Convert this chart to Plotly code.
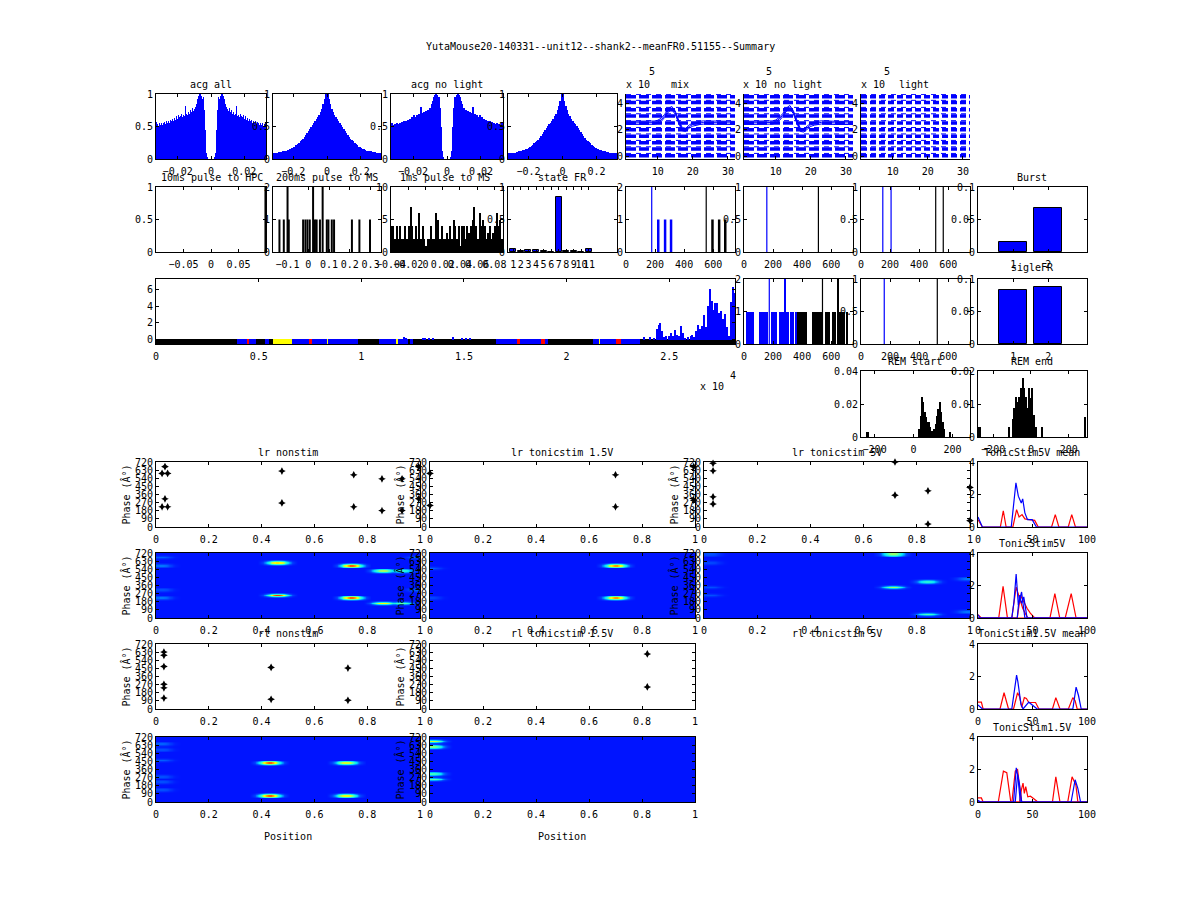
import plotly.graph_objects as go

W, H = 1200, 900
FONT = "DejaVu Sans Mono"
BLUE = "#0000ff"
BLACK = "#000000"
STATE_COLORS = {"k": "#000000", "b": "#0000ff", "r": "#ff0000", "y": "#ffff00"}

# ---------------- data ----------------
# autocorrelograms, one half (lag 0 outwards); the acg is symmetric
acg_all_half = [0, 0, 0, 0.02, 0.1, 0.45, 0.75, 0.95, 0.93, 0.97, 1.0, 1.0, 0.97, 0.92, 0.85, 0.8, 0.77,
                0.74, 0.78, 0.72, 0.75, 0.7, 0.73, 0.68, 0.7, 0.82, 0.66, 0.68, 0.65, 0.7, 0.66, 0.64,
                0.68, 0.62, 0.66, 0.6, 0.63, 0.59, 0.61, 0.58, 0.6, 0.56, 0.59, 0.55, 0.58, 0.54, 0.57,
                0.55, 0.53, 0.56, 0.52, 0.55, 0.5, 0.54, 0.57]
acg_nolight_half = [0, 0, 0, 0.03, 0.12, 0.5, 0.78, 0.96, 0.92, 0.98, 1.0, 0.99, 0.95, 0.9, 0.84, 0.79,
                    0.78, 0.73, 0.76, 0.71, 0.74, 0.69, 0.72, 0.67, 0.71, 0.8, 0.65, 0.69, 0.64, 0.68,
                    0.65, 0.63, 0.67, 0.61, 0.65, 0.6, 0.62, 0.58, 0.6, 0.57, 0.59, 0.55, 0.58, 0.54,
                    0.57, 0.53, 0.56, 0.54, 0.52, 0.55, 0.51, 0.54, 0.5, 0.53, 0.56]
acg_short_bin = 0.0006
acg_wide_half = [1.0, 0.92, 0.85, 0.77, 0.72, 0.68, 0.64, 0.61, 0.58, 0.56, 0.53, 0.5, 0.46, 0.43, 0.4,
                 0.37, 0.34, 0.31, 0.29, 0.27, 0.25, 0.23, 0.21, 0.19, 0.18, 0.17, 0.16, 0.15, 0.14,
                 0.13, 0.13, 0.12, 0.12, 0.11, 0.11, 0.11, 0.1, 0.1, 0.1, 0.1]
acg_wide2_half = [1.0, 0.9, 0.82, 0.75, 0.7, 0.66, 0.62, 0.59, 0.56, 0.54, 0.51, 0.48, 0.45, 0.42, 0.39,
                  0.36, 0.33, 0.3, 0.28, 0.26, 0.24, 0.22, 0.2, 0.19, 0.17, 0.16, 0.15, 0.14, 0.14,
                  0.13, 0.12, 0.12, 0.11, 0.11, 0.1, 0.1, 0.1, 0.1, 0.09, 0.09]
acg_wide_bin = 0.008

# waveforms (units of 1e5), x = sample 1..32
wave_x = list(range(1, 33))
wave_offsets = [0.05, 0.55, 1.03, 1.52, 2.0, 2.52, 3.04, 3.52, 4.05, 4.5]
mix_spike = [2.52, 2.52, 2.52, 2.52, 2.52, 2.52, 2.52, 2.52, 2.54, 2.6, 2.75, 3.05, 3.45, 3.65, 3.3,
             2.6, 2.05, 2.0, 2.25, 2.4, 2.48, 2.52, 2.55, 2.55, 2.52, 2.52, 2.52, 2.52, 2.52, 2.52,
             2.52, 2.52]
nolight_spike = [2.52, 2.52, 2.52, 2.52, 2.52, 2.52, 2.52, 2.52, 2.55, 2.62, 2.8, 3.1, 3.5, 3.72, 3.35,
                 2.65, 2.0, 1.95, 2.2, 2.38, 2.47, 2.52, 2.56, 2.56, 2.53, 2.52, 2.52, 2.52, 2.52,
                 2.52, 2.52, 2.52]

# pulse-triggered histograms
pulse10_x = [0.099]
pulse10_h = [1]
pulse200_tall_x = [-0.1, 0.023, 0.069]
pulse200_x = [-0.139, -0.118, -0.094, -0.025, -0.014, -0.004, 0.007, 0.032, 0.04, 0.056, 0.089,
              0.097, 0.113, 0.124, 0.21, 0.246, 0.297]
pulse1_start = -0.04
pulse1_bin = 0.002
pulse1_counts = [4, 4, 2, 4, 2, 4, 2, 2, 4, 2,
                 4, 7, 4, 2, 4, 2, 6, 2, 4, 2,
                 1, 2, 2, 4, 2, 2, 6, 5, 2, 4,
                 2, 2, 3, 2, 4, 2, 5, 4, 2, 4,
                 1, 4, 4, 2, 4, 3, 4, 5, 7, 4,
                 2, 6, 4, 5, 4, 2, 3, 4, 2, 3,
                 4, 6, 4, 5, 2]
state_ids = [1, 2, 3, 4, 5, 6, 7, 8, 9, 10, 11]
state_fr = [0.04, 0.02, 0.03, 0.03, 0.01, 0.005, 0.85, 0.01, 0.01, 0.005, 0.04]

# event rasters (0..750)
mixev_thin_x = [177, 552]
mixev_thin_h = [2, 2]
mixev_blue_x = [222, 269, 310]
mixev_black_x = [595, 641, 683]
nolightev_blue_x = [157]
nolightev_black_x = [512]
lightev_blue_x = [150, 207]
lightev_black_x = [514, 566]
r3_start = [16, 106, 185, 242, 287, 316, 348, 366, 468, 558, 603, 637, 705, 276, 637]
r3_end = [72, 167, 230, 276, 310, 344, 362, 434, 536, 592, 633, 694, 716, 287, 655]
r3_height = [1, 1, 1, 1, 1, 1, 1, 1, 1, 1, 1, 1, 1, 2, 2]
r3_color = ["b", "b", "b", "b", "b", "b", "b", "k", "k", "k", "k", "k", "k", "b", "k"]
r3_lines_x = [174, 540]
r3b_blue_x = [160]
r3b_black_x = [525]

burst_x = [1, 2]
burst_y = [0.0155, 0.068]
single_fr_x = [1, 2]
single_fr_y = [0.083, 0.088]

# session timeline (x 1e4 s)
seg_start = [0, 0.394, 0.445, 0.454, 0.486, 0.533, 0.548, 0.572, 0.664, 0.744, 0.759, 0.836, 0.839,
             0.983, 1.084, 1.172, 1.179, 1.230, 1.235, 1.252, 1.656, 1.763, 1.772, 1.875, 1.893,
             1.908, 2.127, 2.159, 2.164, 2.239, 2.264, 2.357]
seg_state = ["k", "b", "r", "b", "k", "b", "k", "y", "b", "r", "b", "y", "b", "k", "b", "y", "b",
             "k", "b", "k", "b", "r", "b", "r", "b", "k", "b", "y", "b", "r", "b", "k"]
session_end = 2.82
rate_t = [1.21, 1.22, 1.30, 1.31, 1.33, 1.35, 1.445, 1.49, 1.51, 1.53,
          2.379, 2.407, 2.426, 2.439, 2.449, 2.456, 2.464, 2.473, 2.486, 2.497, 2.51, 2.52, 2.529,
          2.538, 2.548, 2.557, 2.566, 2.576, 2.591, 2.604, 2.613, 2.622, 2.632, 2.641, 2.65, 2.66,
          2.669, 2.679, 2.688, 2.697, 2.707, 2.716, 2.725, 2.735, 2.744, 2.753, 2.763, 2.772,
          2.781, 2.791, 2.8, 2.809, 2.817]
rate_v = [0.3, 0.2, 0.2, 0.25, 0.2, 0.2, 0.3, 0.2, 0.25, 0.2,
          0.3, 0.3, 0.2, 1.3, 1.8, 2.0, 1.0, 0.3, 0.5, 0.4, 0.8, 0.5, 1.2,
          0.6, 0.4, 1.6, 0.8, 0.2, 0.3, 0.5, 0.6, 0.3, 1.0, 1.8, 1.3, 1.6,
          2.9, 1.5, 4.0, 6.0, 4.6, 3.5, 4.3, 4.4, 3.2, 3.4, 2.5, 3.0,
          1.5, 0.5, 4.5, 6.3, 5.5]

# REM transition histograms
rem_start_x = [-240, -232, 31, 38, 45, 52, 59, 66, 73, 80, 87, 94, 108, 115, 122, 129, 136, 143, 150, 157, 188]
rem_start_y = [0.003, 0.003, 0.005, 0.013, 0.0245, 0.021, 0.015, 0.012, 0.009, 0.009, 0.006, 0.0035,
               0.005, 0.008, 0.013, 0.017, 0.021, 0.015, 0.009, 0.005, 0.003]
rem_end_x = [-274, -266, -115, -96, -87, -78, -70, -61, -52, -43, -35, -26, -17, -9, 0, 9, 17, 26, 61, 287]
rem_end_y = [0.003, 0.003, 0.003, 0.0056, 0.0087, 0.012, 0.0107, 0.012, 0.0148, 0.018, 0.015, 0.012,
             0.0087, 0.015, 0.0117, 0.015, 0.0066, 0.003, 0.003, 0.006]

# phase precession scatter (position 0..1, phase deg)
lr_non_x = [0.023, 0.044, 0.034, 0.034, 0.023, 0.044, 0.477, 0.477, 0.749, 0.749, 0.856, 0.856, 0.932, 0.932, 0.995, 0.995]
lr_non_y = [594, 594, 668, 312, 223, 223, 620, 267, 579, 223, 534, 182, 534, 182, 668, 312]
lr_15_x = [0.0, 0.0, 0.70, 0.70, 0.995, 0.995]
lr_15_y = [594, 237, 579, 223, 668, 297]
lr_5_x = [0.034, 0.034, 0.034, 0.034, 0.718, 0.718, 0.842, 0.842, 1.0, 1.0]
lr_5_y = [705, 623, 334, 256, 720, 353, 401, 33, 438, 70]
rl_non_x = [0.03, 0.03, 0.03, 0.03, 0.03, 0.03, 0.436, 0.436, 0.727, 0.727]
rl_non_y = [631, 595, 470, 274, 235, 121, 460, 107, 453, 96]
rl_15_x = [0.82, 0.82]
rl_15_y = [610, 245]

# rate-map hot spots (position, phase, peak)
blob_profile = [0.05, 0.12, 0.28, 0.5, 0.75, 0.92, 1.0, 1.0, 0.92, 0.75, 0.5, 0.28, 0.12, 0.05]
lr_non_hx = [0.03, 0.03, 0.03, 0.03, 0.47, 0.47, 0.745, 0.745, 0.87, 0.94, 0.87, 0.94, 0.995, 0.995]
lr_non_hy = [668, 574, 303, 219, 621, 263, 574, 219, 530, 530, 172, 172, 668, 312]
lr_non_hp = [0.14, 0.2, 0.14, 0.2, 0.88, 0.88, 1.0, 1.0, 0.68, 0.48, 0.72, 0.48, 0.16, 0.16]
lr_15_hx = [0.70, 0.70, 0.005, 0.005]
lr_15_hy = [575, 220, 560, 225]
lr_15_hp = [0.95, 0.95, 0.14, 0.12]
lr_5_hx = [0.718, 0.718, 0.842, 0.842, 0.995, 0.995, 0.03, 0.03, 0.03, 0.03]
lr_5_hy = [712, 353, 401, 33, 438, 70, 705, 623, 334, 256]
lr_5_hp = [0.55, 0.55, 0.46, 0.46, 0.2, 0.2, 0.12, 0.12, 0.12, 0.12]
rl_non_hx = [0.03, 0.03, 0.03, 0.03, 0.03, 0.03, 0.436, 0.436, 0.727, 0.727]
rl_non_hy = [631, 595, 470, 274, 235, 121, 450, 82, 442, 75]
rl_non_hp = [0.17, 0.14, 0.14, 0.14, 0.14, 0.14, 1.0, 1.0, 0.78, 0.82]
rl_15_hx = [0.015, 0.015, 0.015, 0.015]
rl_15_hy = [667, 611, 300, 244]
rl_15_hp = [0.62, 0.62, 0.52, 0.48]

# tonic stimulation rate curves (x 0..100)
t5m_red_x = [0, 4, 20.5, 23.2, 25.8, 32, 35.4, 37.7, 40.4, 43, 47, 52, 55.3, 67.5, 70.9, 74.2, 82.8, 86, 89.4, 100]
t5m_red_y = [0.45, 0, 0, 1.0, 0, 0, 1.07, 0.62, 0.76, 0.5, 0.45, 0.41, 0, 0, 0.76, 0, 0, 0.76, 0, 0]
t5m_blue_x = [0, 4, 30.5, 34.8, 37, 39.7, 41, 43, 45.4, 49.7, 53.6, 100]
t5m_blue_y = [0.62, 0, 0, 2.72, 1.9, 1.48, 1.73, 0.87, 0.45, 0.45, 0, 0]
t5_red_x = [[0, 3, 19, 23, 27, 66, 70.5, 75, 80, 85.5, 90, 100],
            [0, 31, 35, 38, 41, 44, 46, 100],
            [0, 36, 39, 41, 43, 45, 48, 52, 100]]
t5_red_y = [[0.2, 0, 0, 1.95, 0, 0, 1.5, 0, 0, 1.5, 0, 0],
            [0, 0, 1.9, 1.2, 0.6, 0.2, 0, 0],
            [0, 0, 1.4, 1.1, 0.8, 0.6, 0.3, 0, 0]]
t5_blue_x = [[0, 2, 31, 33, 35, 37, 40, 43, 100],
             [0, 36, 38, 40, 42, 45, 100]]
t5_blue_y = [[0.2, 0, 0, 1.0, 2.7, 0.8, 1.6, 0, 0],
             [0, 0, 1.4, 0.9, 1.3, 0, 0]]
t15m_red_x = [0, 3.1, 4.7, 20.2, 23.9, 28, 32.6, 36.3, 38.2, 40.1, 42.5, 44.4, 46.6, 49.7, 52.8, 55.9,
              68.3, 71.4, 75.2, 82.9, 87, 89.1, 91, 100]
t15m_red_y = [0.42, 0.42, 0, 0, 1.0, 0, 0, 1.0, 0.75, 0.1, 0.7, 0.65, 0.4, 0.4, 0.4, 0, 0, 0.7, 0, 0,
              0.7, 0.5, 0, 0]
t15m_blue_x = [0, 4, 31, 33.2, 35.4, 36.6, 37.9, 39.4, 41.3, 44.4, 46.6, 54.3, 87, 90, 92.2, 94.7, 100]
t15m_blue_y = [0.25, 0, 0, 1.04, 2.08, 1.67, 0.94, 0.3, 0, 0.27, 0.42, 0, 0, 1.35, 0.83, 0, 0]
t15_red_x = [[0, 3.1, 4.7, 18.6, 23.3, 26.4, 30.1, 68.3, 71.4, 75.2, 82.3, 86.3, 89.8, 91.6, 100],
             [0, 31.1, 34.2, 36.3, 38.2, 40.1, 100],
             [0, 38.2, 39.8, 41.3, 42.5, 43.8, 45.7, 48.1, 51.2, 54.9, 100]]
t15_red_y = [[0.25, 0.25, 0, 0, 1.9, 1.8, 0, 0, 1.55, 0, 0, 1.55, 1.05, 0, 0],
             [0, 0, 1.9, 2.0, 0.95, 0, 0],
             [0, 0, 0.74, 1.16, 0.53, 0.95, 0.32, 0.36, 0.2, 0, 0]]
t15_blue_x = [[0, 2.2, 32.6, 35.1, 36.6, 38.8, 85.4, 89.1, 91.6, 94.1, 100],
              [0, 34.2, 36.3, 37.9, 40.1, 100]]
t15_blue_y = [[0.1, 0, 0, 2.1, 1.58, 0, 0, 1.37, 0.84, 0, 0],
              [0, 0, 1.68, 1.16, 0, 0]]

phase_ticks = [0, 90, 180, 270, 360, 450, 540, 630, 720]
pos_ticks = [0, 0.2, 0.4, 0.6, 0.8, 1]

# ---------------- layout helpers ----------------
COL = [(156, 266), (273, 381), (391, 503), (508, 617), (626, 735), (744, 853), (861, 970), (978, 1087)]
WIDE = [(156, 420), (430, 695), (704, 970)]
ROW = [(94, 159), (187, 252), (279, 344), (371, 437), (462, 527), (553, 618), (644, 709), (737, 802)]

fig = go.Figure()
axes = {}
count = [0]


def new_axes(xs, ys, xrange, yrange, xticks, yticks, frame=True, ytitle=None):
    count[0] += 1
    n = count[0]
    sfx = "" if n == 1 else str(n)
    common = dict(showgrid=False, zeroline=False, showline=True, linecolor="black", linewidth=1,
                  ticks="inside", ticklen=3, tickcolor="black", tickwidth=1, tickangle=0,
                  tickfont=dict(family=FONT, size=10, color="black"), automargin=False,
                  mirror="ticks" if frame else False, fixedrange=True)
    axes["xaxis" + sfx] = dict(common, domain=[xs[0] / W, xs[1] / W], range=xrange,
                               anchor="y" + sfx, tickvals=xticks, ticklabelstandoff=3)
    ya = dict(common, domain=[1 - ys[1] / H, 1 - ys[0] / H], range=yrange,
              anchor="x" + sfx, tickvals=yticks)
    if ytitle:
        ya["title"] = dict(text=ytitle, font=dict(family=FONT, size=10, color="black"), standoff=2)
    axes["yaxis" + sfx] = ya
    return "x" + sfx, "y" + sfx


def stems(xs, hs):
    sx, sy = [], []
    for x, h in zip(xs, hs):
        sx += [x, x, None]
        sy += [0, h, None]
    return sx, sy


def add_stems(xa, ya, xs, hs, color, width):
    sx, sy = stems(xs, hs)
    fig.add_trace(go.Scatter(x=sx, y=sy, mode="lines", line=dict(color=color, width=width),
                             xaxis=xa, yaxis=ya, hoverinfo="skip"))


def add_acg(xa, ya, half, binw):
    centers = [binw / 2 + k * binw for k in range(len(half))]
    x = [-c for c in reversed(centers)] + centers
    y = list(reversed(half)) + list(half)
    fig.add_trace(go.Bar(x=x, y=y, width=binw, marker=dict(color=BLUE, line=dict(width=0)),
                         xaxis=xa, yaxis=ya))


def add_waves(xa, ya, spike, dash):
    for off in wave_offsets:
        fig.add_trace(go.Scatter(x=[wave_x[0], wave_x[-1]], y=[off, off], mode="lines",
                                 line=dict(color=BLUE, width=3.5, dash=dash), xaxis=xa, yaxis=ya))
        fig.add_trace(go.Scatter(x=[wave_x[0], wave_x[-1]], y=[off + 0.17, off + 0.17], mode="lines",
                                 line=dict(color=BLUE, width=1, dash="5px,5px"), xaxis=xa, yaxis=ya))
    if spike:
        for d in (-0.12, 0, 0.12):
            fig.add_trace(go.Scatter(x=wave_x, y=[v + d for v in spike], mode="lines",
                                     line=dict(color=BLUE, width=1), xaxis=xa, yaxis=ya))


def rate_map(hx, hy, hp, nx=100, ny=24):
    z = [[0.0] * nx for _ in range(ny)]
    half = len(blob_profile) // 2
    for bx, by, peak in zip(hx, hy, hp):
        col = int(round(bx / 0.01 - 0.5))
        row = min(max(int(round(by / 30 - 0.5)), 0), ny - 1)
        for k, v in enumerate(blob_profile):
            c = col + k - half
            if 0 <= c < nx:
                z[row][c] = max(z[row][c], v * peak)
    return z


JET = [[0, "#0014ff"], [0.12, "#0050ff"], [0.3, "#00e0ff"], [0.45, "#40ffc0"], [0.6, "#c0ff40"],
       [0.72, "#ffff00"], [0.86, "#ff4000"], [1, "#d00000"]]


def add_heat(xa, ya, hx, hy, hp):
    fig.add_trace(go.Heatmap(z=rate_map(hx, hy, hp), x0=0.005, dx=0.01, y0=15, dy=30,
                             colorscale=JET, zmin=0, zmax=1, zsmooth="best", showscale=False,
                             xaxis=xa, yaxis=ya, hoverinfo="skip"))


def add_points(xa, ya, xs, ys):
    fig.add_trace(go.Scatter(x=xs, y=ys, mode="markers",
                             marker=dict(symbol="star-diamond", size=5.5, color=BLACK),
                             xaxis=xa, yaxis=ya, cliponaxis=False))


def add_curves(xa, ya, xs_list, ys_list, color):
    for xs, ys in zip(xs_list, ys_list):
        fig.add_trace(go.Scatter(x=xs, y=ys, mode="lines", line=dict(color=color, width=1.2),
                                 xaxis=xa, yaxis=ya))


# ---------------- row 1: acgs and waveforms ----------------
xa, ya = new_axes(COL[0], ROW[0], [-0.033, 0.033], [0, 1], [-0.02, 0, 0.02], [0, 0.5, 1])
add_acg(xa, ya, acg_all_half, acg_short_bin)
xa, ya = new_axes(COL[1], ROW[0], [-0.32, 0.32], [0, 1], [-0.2, 0, 0.2], [0, 0.5, 1])
add_acg(xa, ya, acg_wide_half, acg_wide_bin)
xa, ya = new_axes(COL[2], ROW[0], [-0.033, 0.033], [0, 1], [-0.02, 0, 0.02], [0, 0.5, 1])
add_acg(xa, ya, acg_nolight_half, acg_short_bin)
xa, ya = new_axes(COL[3], ROW[0], [-0.32, 0.32], [0, 1], [-0.2, 0, 0.2], [0, 0.5, 1])
add_acg(xa, ya, acg_wide2_half, acg_wide_bin)
xa, ya = new_axes(COL[4], ROW[0], [1, 32], [-0.2, 4.7], [10, 20, 30], [0, 2, 4], frame=False)
add_waves(xa, ya, mix_spike, "10px,3px")
xa, ya = new_axes(COL[5], ROW[0], [1, 32], [-0.2, 4.7], [10, 20, 30], [0, 2, 4], frame=False)
add_waves(xa, ya, nolight_spike, "10px,3px")
xa, ya = new_axes(COL[6], ROW[0], [1, 32], [-0.2, 4.7], [10, 20, 30], [0, 2, 4], frame=False)
add_waves(xa, ya, None, "6px,3px")

# ---------------- row 2 ----------------
xa, ya = new_axes(COL[0], ROW[1], [-0.1, 0.1], [0, 1], [-0.05, 0, 0.05], [0, 0.5, 1])
add_stems(xa, ya, pulse10_x, pulse10_h, BLACK, 2)
xa, ya = new_axes(COL[1], ROW[1], [-0.17, 0.35], [0, 2], [-0.1, 0, 0.1, 0.2, 0.3], [0, 1, 2])
add_stems(xa, ya, pulse200_tall_x, [2] * len(pulse200_tall_x), BLACK, 2)
add_stems(xa, ya, pulse200_x, [1] * len(pulse200_x), BLACK, 2)
xa, ya = new_axes(COL[2], ROW[1], [-0.04, 0.09], [0, 10], [-0.04, -0.02, 0, 0.02, 0.04, 0.06, 0.08], [0, 5, 10])
fig.add_trace(go.Bar(x=[pulse1_start + pulse1_bin * (k + 0.5) for k in range(len(pulse1_counts))],
                     y=pulse1_counts, width=pulse1_bin * 0.8,
                     marker=dict(color=BLACK, line=dict(width=0)), xaxis=xa, yaxis=ya))
xa, ya = new_axes(COL[3], ROW[1], [0.3, 14.7], [0, 1], state_ids, [0, 0.5, 1])
fig.add_trace(go.Bar(x=state_ids, y=state_fr, width=0.8,
                     marker=dict(color=BLUE, line=dict(color=BLACK, width=1)), xaxis=xa, yaxis=ya))
xa, ya = new_axes(COL[4], ROW[1], [0, 750], [0, 2], [0, 200, 400, 600], [0, 1, 2])
add_stems(xa, ya, mixev_thin_x[:1], mixev_thin_h[:1], BLUE, 1.2)
add_stems(xa, ya, mixev_thin_x[1:], mixev_thin_h[1:], BLACK, 1.2)
add_stems(xa, ya, mixev_blue_x, [1] * len(mixev_blue_x), BLUE, 2.5)
add_stems(xa, ya, mixev_black_x, [1] * len(mixev_black_x), BLACK, 2.5)
xa, ya = new_axes(COL[5], ROW[1], [0, 750], [0, 1], [0, 200, 400, 600], [0, 0.5, 1])
add_stems(xa, ya, nolightev_blue_x, [1], BLUE, 1.2)
add_stems(xa, ya, nolightev_black_x, [1], BLACK, 1.2)
xa, ya = new_axes(COL[6], ROW[1], [0, 750], [0, 1], [0, 200, 400, 600], [0, 0.5, 1])
add_stems(xa, ya, lightev_blue_x, [1, 1], BLUE, 1.2)
add_stems(xa, ya, lightev_black_x, [1, 1], BLACK, 1.2)
xa, ya = new_axes(COL[7], ROW[1], [0, 3.1], [0, 0.1], [1, 2], [0, 0.05, 0.1])
fig.add_trace(go.Bar(x=burst_x, y=burst_y, width=0.8,
                     marker=dict(color=BLUE, line=dict(color=BLACK, width=1)), xaxis=xa, yaxis=ya))

# ---------------- row 3 ----------------
xa, ya = new_axes((156, 735), ROW[2], [0, session_end], [-0.5, 7.2], [0, 0.5, 1, 1.5, 2, 2.5], [0, 2, 4, 6])
seg_end = seg_start[1:] + [session_end]
fig.add_trace(go.Bar(y=[-0.2] * len(seg_start), x=[e - s for s, e in zip(seg_start, seg_end)],
                     base=seg_start, orientation="h", width=0.6,
                     marker=dict(color=[STATE_COLORS[s] for s in seg_state], line=dict(width=0)),
                     xaxis=xa, yaxis=ya))
fig.add_trace(go.Bar(x=rate_t, y=rate_v, width=0.006, marker=dict(color=BLUE, line=dict(width=0)),
                     xaxis=xa, yaxis=ya))
xa, ya = new_axes(COL[5], ROW[2], [0, 750], [0, 2], [0, 200, 400, 600], [0, 1, 2])
fig.add_trace(go.Bar(x=[(s + e) / 2 for s, e in zip(r3_start, r3_end)],
                     y=r3_height, width=[e - s for s, e in zip(r3_start, r3_end)],
                     marker=dict(color=[STATE_COLORS[c] for c in r3_color], line=dict(width=0)),
                     xaxis=xa, yaxis=ya))
add_stems(xa, ya, r3_lines_x[:1], [2], BLUE, 1.2)
add_stems(xa, ya, r3_lines_x[1:], [2], BLACK, 1.2)
xa, ya = new_axes(COL[6], ROW[2], [0, 750], [0, 1], [0, 200, 400, 600], [0, 0.5, 1])
add_stems(xa, ya, r3b_blue_x, [1], BLUE, 1.2)
add_stems(xa, ya, r3b_black_x, [1], BLACK, 1.2)
xa, ya = new_axes(COL[7], ROW[2], [0, 3.1], [0, 0.1], [1, 2], [0, 0.05, 0.1])
fig.add_trace(go.Bar(x=single_fr_x, y=single_fr_y, width=0.8,
                     marker=dict(color=BLUE, line=dict(color=BLACK, width=1)), xaxis=xa, yaxis=ya))

# ---------------- row 4: REM ----------------
xa, ya = new_axes(COL[6], ROW[3], [-270, 290], [0, 0.04], [-200, 0, 200], [0, 0.02, 0.04])
fig.add_trace(go.Bar(x=rem_start_x, y=rem_start_y, width=7.5, marker=dict(color=BLACK, line=dict(width=0)),
                     xaxis=xa, yaxis=ya))
xa, ya = new_axes(COL[7], ROW[3], [-280, 296], [0, 0.02], [-200, 0, 200], [0, 0.01, 0.02])
fig.add_trace(go.Bar(x=rem_end_x, y=rem_end_y, width=8.5, marker=dict(color=BLACK, line=dict(width=0)),
                     xaxis=xa, yaxis=ya))

# ---------------- rows 5-8: phase precession ----------------
PH = "Phase (Â°)"
xa, ya = new_axes(WIDE[0], ROW[4], [0, 1], [0, 720], pos_ticks, phase_ticks, ytitle=PH)
add_points(xa, ya, lr_non_x, lr_non_y)
xa, ya = new_axes(WIDE[1], ROW[4], [0, 1], [0, 720], pos_ticks, phase_ticks, ytitle=PH)
add_points(xa, ya, lr_15_x, lr_15_y)
xa, ya = new_axes(WIDE[2], ROW[4], [0, 1], [0, 720], pos_ticks, phase_ticks, ytitle=PH)
add_points(xa, ya, lr_5_x, lr_5_y)
xa, ya = new_axes(COL[7], ROW[4], [0, 100], [0, 4], [0, 50, 100], [0, 2, 4])
add_curves(xa, ya, [t5m_red_x], [t5m_red_y], "#ff0000")
add_curves(xa, ya, [t5m_blue_x], [t5m_blue_y], BLUE)

xa, ya = new_axes(WIDE[0], ROW[5], [0, 1], [0, 720], pos_ticks, phase_ticks, ytitle=PH)
add_heat(xa, ya, lr_non_hx, lr_non_hy, lr_non_hp)
xa, ya = new_axes(WIDE[1], ROW[5], [0, 1], [0, 720], pos_ticks, phase_ticks, ytitle=PH)
add_heat(xa, ya, lr_15_hx, lr_15_hy, lr_15_hp)
xa, ya = new_axes(WIDE[2], ROW[5], [0, 1], [0, 720], pos_ticks, phase_ticks, ytitle=PH)
add_heat(xa, ya, lr_5_hx, lr_5_hy, lr_5_hp)
xa, ya = new_axes(COL[7], ROW[5], [0, 100], [0, 4], [0, 50, 100], [0, 2, 4])
add_curves(xa, ya, t5_red_x, t5_red_y, "#ff0000")
add_curves(xa, ya, t5_blue_x, t5_blue_y, BLUE)

xa, ya = new_axes(WIDE[0], ROW[6], [0, 1], [0, 720], pos_ticks, phase_ticks, ytitle=PH)
add_points(xa, ya, rl_non_x, rl_non_y)
xa, ya = new_axes(WIDE[1], ROW[6], [0, 1], [0, 720], pos_ticks, phase_ticks, ytitle=PH)
add_points(xa, ya, rl_15_x, rl_15_y)
xa, ya = new_axes(WIDE[2], ROW[6], [0, 1], [0, 720], pos_ticks, phase_ticks, frame=False, ytitle=PH)
xa, ya = new_axes(COL[7], ROW[6], [0, 100], [0, 4], [0, 50, 100], [0, 2, 4])
add_curves(xa, ya, [t15m_red_x], [t15m_red_y], "#ff0000")
add_curves(xa, ya, [t15m_blue_x], [t15m_blue_y], BLUE)

xa, ya = new_axes(WIDE[0], ROW[7], [0, 1], [0, 720], pos_ticks, phase_ticks, ytitle=PH)
add_heat(xa, ya, rl_non_hx, rl_non_hy, rl_non_hp)
xa, ya = new_axes(WIDE[1], ROW[7], [0, 1], [0, 720], pos_ticks, phase_ticks, ytitle=PH)
add_heat(xa, ya, rl_15_hx, rl_15_hy, rl_15_hp)
xa, ya = new_axes(COL[7], ROW[7], [0, 100], [0, 4], [0, 50, 100], [0, 2, 4])
add_curves(xa, ya, t15_red_x, t15_red_y, "#ff0000")
add_curves(xa, ya, t15_blue_x, t15_blue_y, BLUE)

# ---------------- text ----------------
texts = [
    ("YutaMouse20-140331--unit12--shank2--meanFR0.51155--Summary", 600, 47),
    ("acg all", 211, 84), ("acg no light", 447, 84),
    ("x 10", 638, 84), ("5", 652, 71), ("mix", 680, 84),
    ("x 10", 755, 84), ("5", 769, 71), ("no light", 798, 84),
    ("x 10", 873, 84), ("5", 887, 71), ("light", 914, 84),
    ("10ms pulse to HPC", 212, 177), ("200ms pulse to MS", 327, 177), ("1ms pulse to MS", 445, 177),
    ("state FR", 562, 177), ("Burst", 1032, 177), ("sigleFR", 1032, 268),
    ("x 10", 712, 386), ("4", 733, 375),
    ("REM start", 915, 361), ("REM end", 1032, 361),
    ("lr nonstim", 288, 452), ("lr tonicstim 1.5V", 562, 452), ("lr tonicstim 5V", 837, 452),
    ("TonicStim5V mean", 1032, 452), ("TonicStim5V", 1032, 543),
    ("rl nonstim", 288, 633), ("rl tonicstim 1.5V", 562, 633), ("rl tonicstim 5V", 837, 633),
    ("TonicStim1.5V mean", 1032, 633), ("TonicStim1.5V", 1032, 727),
    ("Position", 288, 836), ("Position", 562, 836),
]
annotations = [dict(text=t, x=x / W, y=1 - y / H, xref="paper", yref="paper", showarrow=False,
                    xanchor="center", yanchor="middle", font=dict(family=FONT, size=10, color="black"))
               for t, x, y in texts]

fig.update_layout(width=W, height=H, margin=dict(l=0, r=0, t=0, b=0, pad=0, autoexpand=False),
                  showlegend=False, paper_bgcolor="white", plot_bgcolor="white",
                  barmode="overlay", bargap=0,
                  font=dict(family=FONT, size=10, color="black"), annotations=annotations, **axes)
fig.write_html("out.html", config={"displayModeBar": False},
               post_script="document.body.style.margin='0';")
